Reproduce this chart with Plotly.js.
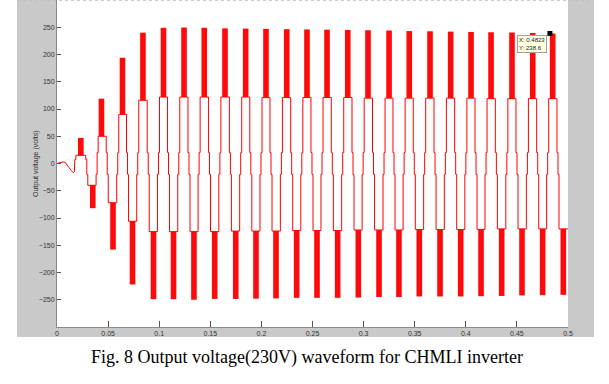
<!DOCTYPE html>
<html><head><meta charset="utf-8">
<script src="https://cdn.plot.ly/plotly-3.0.1.min.js"></script>
<style>html,body{margin:0;padding:0;background:#fff}</style>
</head><body><div id="chart" style="width:609px;height:384px"></div>
<script>
// Start-up wiggle before the first switching half-cycle (time s, volts)
const preTime = [0, 0.003, 0.006, 0.008, 0.010, 0.012, 0.014, 0.016, 0.017];
const preVolt = [0, 1, 3, 2, -2, -8, -13, -17, -15];

// Half-cycles: centre of the peak PWM band, plateau level, peak value
const halfCenter = [0.0233, 0.0350, 0.0435, 0.0548, 0.0641, 0.0739, 0.0841, 0.0944, 0.1042, 0.1140,
  0.1243, 0.1340, 0.1441, 0.1543, 0.1644, 0.1749, 0.1846, 0.1947, 0.2045, 0.2143,
  0.2248, 0.2345, 0.2446, 0.2544, 0.2642, 0.2746, 0.2845, 0.2948, 0.3043, 0.3151,
  0.3249, 0.3346, 0.3447, 0.3545, 0.3650, 0.3748, 0.3852, 0.3950, 0.4051, 0.4149,
  0.4247, 0.4351, 0.4452, 0.4550, 0.4655, 0.4752, 0.4850, 0.4954];
const halfLevel = [15, -40, 50, -72, 90, -106, 116, -125, 122, -125,
  122, -125, 122, -125, 122, -124, 122, -124, 121, -124,
  121, -123, 121, -123, 121, -123, 121, -122, 120, -122,
  120, -122, 120, -121, 120, -121, 120, -121, 120, -121,
  119, -120, 119, -120, 119, -120, 119, -120];
const halfPeak = [47, -82, 119, -158, 194, -222, 240, -249, 249, -249,
  249.5, -250, 249, -248.5, 248, -248.5, 247.5, -248, 247, -247.5,
  246.5, -246.5, 246, -246.5, 245.5, -246.5, 245, -246, 244.5, -245,
  244, -245, 243, -244, 242.6, -244, 242, -244, 241.4, -243.5,
  240.8, -243, 240.3, -242, 239.6, -241.5, 238.6, -241];

// Data tip
const tipX = 0.4823;
const tipY = 238.6;

const yTickVals = [-250, -200, -150, -100, -50, 0, 50, 100, 150, 200, 250];
const xTickVals = [0, 0.05, 0.1, 0.15, 0.2, 0.25, 0.3, 0.35, 0.4, 0.45, 0.5];
const xTickText = ['0', '0.05', '0.1', '0.15', '0.2', '0.25', '0.3', '0.35', '0.4', '0.45', '0.5'];

// ---- build the stepped waveform path from the half-cycle data ----
const wx = [], wy = [];
function add(x, y) { wx.push(x); wy.push(y); }
preTime.forEach((t, i) => add(t, preVolt[i]));
const n = halfCenter.length;
const bounds = [];
for (let i = 0; i <= n; i++) {
  let b;
  if (i === 0) b = halfCenter[0] - (halfCenter[1] - halfCenter[0]) / 2;
  else if (i === n) b = Math.min(0.5, halfCenter[n - 1] + (halfCenter[n - 1] - halfCenter[n - 2]) / 2);
  else b = (halfCenter[i - 1] + halfCenter[i]) / 2;
  bounds.push(b);
}
const d = 0.001;
for (let i = 0; i < n; i++) {
  const L = halfLevel[i], s = Math.sign(L);
  const z = Math.min(20, Math.abs(L) * 0.5) * s;
  const a = bounds[i], b = bounds[i + 1];
  add(a, z); add(a + d, z); add(a + d, L);
  if (i === n - 1) { add(b, L); }
  else { add(b - d, L); add(b - d, z); add(b, z); }
}

const traces = [
  {
    type: 'scatter', mode: 'lines', x: wx, y: wy,
    line: { color: '#ff0000', width: 1 }, hoverinfo: 'skip'
  },
  {
    type: 'bar', x: halfCenter, base: halfLevel,
    y: halfPeak.map((p, i) => p - halfLevel[i]),
    width: 0.0055, marker: { color: '#ff0a0a', line: { width: 0 } }, hoverinfo: 'skip'
  },
  {
    type: 'scatter', mode: 'markers', x: [tipX], y: [tipY],
    marker: { symbol: 'square', size: 5, color: '#000' }, hoverinfo: 'skip'
  }
];

const layout = {
  width: 609, height: 384,
  margin: { l: 57, r: 41, t: 0, b: 57 },
  paper_bgcolor: '#ffffff',
  plot_bgcolor: 'rgba(0,0,0,0)',
  showlegend: false,
  hovermode: false,
  barmode: 'overlay',
  font: { family: 'Liberation Sans, Arial, sans-serif', size: 7, color: '#333' },
  xaxis: {
    range: [0, 0.5], tickvals: xTickVals, ticktext: xTickText,
    ticks: 'inside', ticklen: 6, tickcolor: '#555', tickwidth: 1,
    showline: true, linecolor: '#8a8a8a', linewidth: 1, mirror: false,
    showgrid: false, zeroline: false,
    tickfont: { size: 7, color: '#333' }
  },
  yaxis: {
    range: [-300, 300], tickvals: yTickVals,
    ticks: 'inside', ticklen: 4, tickcolor: '#555', tickwidth: 1,
    showline: true, linecolor: '#8a8a8a', linewidth: 1, mirror: false,
    showgrid: false, zeroline: false,
    tickfont: { size: 7, color: '#333' }
  },
  shapes: [
    { type: 'rect', xref: 'paper', yref: 'paper', x0: -0.0783, x1: 1.0509, y0: -0.0306, y1: 1.01,
      fillcolor: '#c9c9c9', line: { width: 0 }, layer: 'below' },
    { type: 'rect', xref: 'paper', yref: 'paper', x0: 0, x1: 1, y0: 0, y1: 1.01,
      fillcolor: '#ffffff', line: { width: 0 }, layer: 'below' },
    { type: 'line', xref: 'paper', yref: 'paper', x0: -0.0783, x1: 1.0509, y0: 0.999, y1: 0.999,
      line: { color: '#b8c4b8', width: 1, dash: 'dot' }, layer: 'above' }
  ],
  annotations: [
    { xref: 'paper', yref: 'paper', x: -0.042, y: 0.5, text: 'Output voltage (volts)',
      textangle: -90, showarrow: false, xanchor: 'center', yanchor: 'middle',
      font: { size: 7, color: '#333' } },
    { xref: 'x', yref: 'y', x: tipX, y: tipY, xanchor: 'right', yanchor: 'top',
      xshift: -3, yshift: -2, showarrow: false, align: 'left',
      text: 'X: ' + tipX + '<br>Y: ' + tipY,
      bgcolor: '#ffffe1', bordercolor: '#a0a0a0', borderwidth: 1, borderpad: 1,
      font: { size: 6, color: '#222' } },
    { xref: 'paper', yref: 'paper', x: 0.489, y: -0.0948, xanchor: 'center', yanchor: 'middle',
      showarrow: false, text: 'Fig. 8 Output voltage(230V) waveform for CHMLI inverter',
      font: { family: 'Liberation Serif, Times New Roman, serif', size: 18, color: '#000' } }
  ]
};

Plotly.newPlot('chart', traces, layout, { staticPlot: true, displayModeBar: false });
</script>
</body></html>
